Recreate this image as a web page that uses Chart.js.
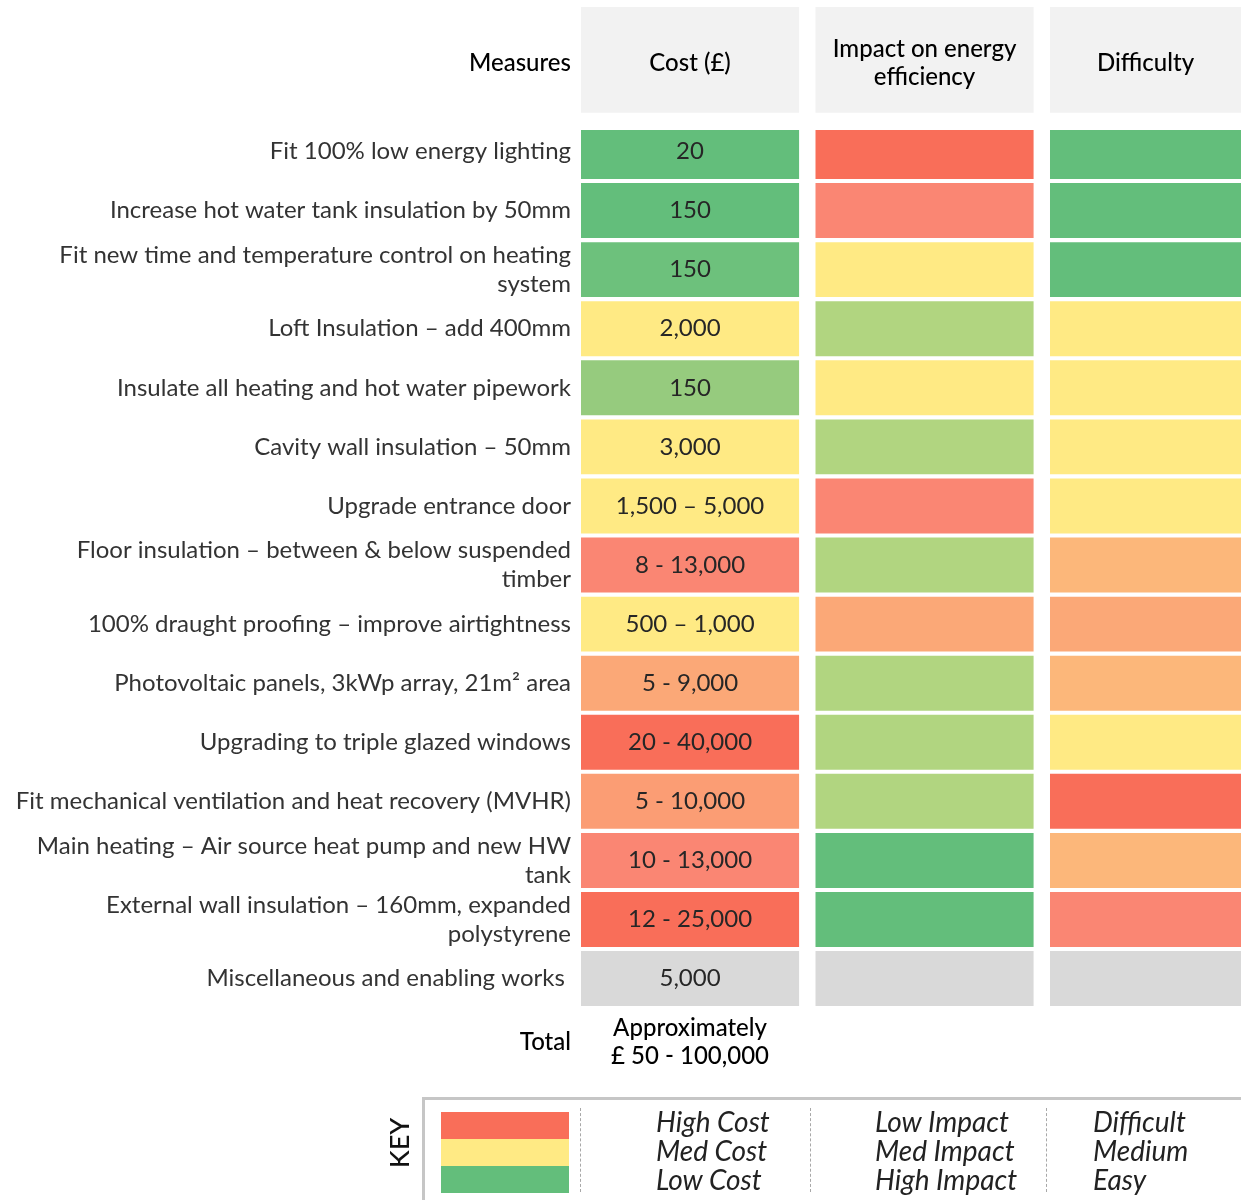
<!DOCTYPE html>
<html><head><meta charset="utf-8">
<script src="https://cdn.jsdelivr.net/npm/chart.js@4.4.0/dist/chart.umd.min.js"></script>
<style>
html,body{margin:0;padding:0;background:#fff;}
#wrap{position:relative;width:1241px;height:1200px;overflow:hidden;font-family:Lato,"Noto Sans",sans-serif;}
#c{position:absolute;left:0;top:0;}
.abs{position:absolute;}
#keybox{left:422px;top:1097px;width:900px;height:200px;border:3px solid #c6c6c6;box-sizing:border-box;}
#keylabel{left:398px;top:1143px;transform:translate(-50%,-50%) rotate(-90deg);font-size:27px;font-weight:500;color:#111;white-space:nowrap;}
.sw{left:441px;width:128px;height:27px;}
.dash{top:1108px;height:84px;border-left:1px dashed #a8a8a8;width:0;}
.kcol{top:1107px;font-style:italic;font-size:28px;line-height:29px;color:#222;white-space:nowrap;}
</style>
</head><body>
<div id="wrap">
<canvas id="c" width="1241" height="1200"></canvas>
<div id="keybox" class="abs"></div>
<div id="keylabel" class="abs"></div>
</div>
<script>
// ---------- data ----------
const headerLabel = 'Measures';
const columnTitles = ['Cost (£)', ['Impact on energy', 'efficiency'], 'Difficulty'];
const measures = [
  'Fit 100% low energy lighting',
  'Increase hot water tank insulation by 50mm',
  ['Fit new time and temperature control on heating', 'system'],
  'Loft Insulation – add 400mm',
  'Insulate all heating and hot water pipework',
  'Cavity wall insulation – 50mm',
  'Upgrade entrance door',
  ['Floor insulation – between & below suspended', 'timber'],
  '100% draught proofing – improve airtightness',
  'Photovoltaic panels, 3kWp array, 21m² area',
  'Upgrading to triple glazed windows',
  'Fit mechanical ventilation and heat recovery (MVHR)',
  ['Main heating – Air source heat pump and new HW', 'tank'],
  ['External wall insulation – 160mm, expanded', 'polystyrene'],
  'Miscellaneous and enabling works '
];
const costLabels = ['20', '150', '150', '2,000', '150', '3,000', '1,500 – 5,000', '8 - 13,000',
  '500 – 1,000', '5 - 9,000', '20 - 40,000', '5 - 10,000', '10 - 13,000', '12 - 25,000', '5,000'];
// rating levels: 1 = best (green) ... 10 = worst (red), 0 = not rated
const costLevels       = [1, 1, 2, 5, 3, 5, 5, 9, 5, 7, 10, 8, 9, 10, 0];
const impactLevels     = [10, 9, 5, 4, 5, 4, 9, 4, 7, 4, 4, 4, 1, 1, 0];
const difficultyLevels = [1, 1, 1, 5, 5, 5, 5, 6, 7, 6, 5, 10, 6, 9, 0];
const totalLabel = 'Total';
const totalCost = ['Approximately', '£ 50 - 100,000'];
const keyTitle = 'KEY';
const keyLevels = [10, 5, 1];
const keyCost = ['High Cost', 'Med Cost', 'Low Cost'];
const keyImpact = ['Low Impact', 'Med Impact', 'High Impact'];
const keyDifficulty = ['Difficult', 'Medium', 'Easy'];

// ---------- styling ----------
const palette = {0:'#D9D9D9',1:'#63BE7B',2:'#6DC17C',3:'#96CB7E',4:'#B1D580',5:'#FFEA84',
  6:'#FCB77A',7:'#FBA877',8:'#FB9D74',9:'#FA8673',10:'#F96E59'};
const HEADER_FILL = '#F2F2F2';
const FONT = 'Lato, "Noto Sans", sans-serif';
const CELL = 0.93;          // share of a row / column covered by a cell
const HEAD_TOP = -1.98, HEAD_BOTTOM = -0.19, HEAD_TEXT = -1.03;
const ROW_MID = 0.465, TOTAL_MID = 15.54;

const columns = [costLevels, impactLevels, difficultyLevels];
const tickValues = [HEAD_TEXT, ...measures.map((_, i) => i + ROW_MID), TOTAL_MID];
const tickLabels = [headerLabel, ...measures, totalLabel];

const datasets = columns.map((levels, k) => ({
  data: [{x: k + CELL / 2, y: [HEAD_TOP, HEAD_BOTTOM]},
         ...levels.map((_, i) => ({x: k + CELL / 2, y: [i === 0 ? 0.1 : i, i + CELL]}))],
  backgroundColor: [HEADER_FILL, ...levels.map(l => palette[l])],
  borderWidth: 0,
  grouped: false,
  categoryPercentage: 1,
  barPercentage: CELL
}));

const textPlugin = {
  id: 'cellText',
  afterDatasetsDraw(chart) {
    const {ctx, chartArea, scales: {y}} = chart;
    ctx.save();
    ctx.textAlign = 'center';
    ctx.textBaseline = 'middle';
    ctx.fillStyle = '#000';
    ctx.font = '500 24px ' + FONT;
    columnTitles.forEach((t, k) => {
      const el = chart.getDatasetMeta(k).data[0];
      const left = el.x - el.width / 2;
      const right = Math.min(el.x + el.width / 2, chartArea.right);
      const cx = (left + right) / 2;
      const lines = [].concat(t);
      const yc = y.getPixelForValue(HEAD_TEXT);
      lines.forEach((s, j) => ctx.fillText(s, cx, yc + (j - (lines.length - 1) / 2) * 28));
    });
    const costMeta = chart.getDatasetMeta(0);
    ctx.font = '24px ' + FONT;
    ctx.fillStyle = '#262626';
    costLabels.forEach((t, i) => {
      ctx.fillText(t, costMeta.data[i + 1].x, y.getPixelForValue(i + ROW_MID));
    });
    ctx.font = '500 24px ' + FONT;
    ctx.fillStyle = '#000';
    const yt = y.getPixelForValue(TOTAL_MID);
    totalCost.forEach((s, j) => ctx.fillText(s, costMeta.data[0].x, yt + (j - (totalCost.length - 1) / 2) * 28));
    ctx.restore();
  }
};

new Chart(document.getElementById('c'), {
  type: 'bar',
  data: {datasets},
  plugins: [textPlugin],
  options: {
    responsive: false,
    animation: false,
    events: [],
    layout: {padding: 0},
    plugins: {legend: {display: false}, tooltip: {enabled: false}},
    scales: {
      x: {type: 'linear', display: false, offset: false, min: 0, max: 2.8145,
          grid: {offset: false},
          ticks: {stepSize: 1, includeBounds: false}},
      y: {type: 'linear', reverse: true, offset: false, min: -2.099, max: 18.213,
          grid: {display: false, drawTicks: false}, border: {display: false},
          afterBuildTicks: s => { s.ticks = tickValues.map(v => ({value: v})); },
          afterFit: s => { s.width = 581; s.paddingTop = 0; s.paddingBottom = 0; },
          ticks: {
            autoSkip: false, padding: 10,
            callback: (v, i) => tickLabels[i],
            font: c => (c.index === 0 || c.index === tickLabels.length - 1)
              ? {family: FONT, size: 24, weight: '500', lineHeight: 1.2}
              : {family: FONT, size: 24, weight: 'normal', lineHeight: 1.2},
            color: c => (c.index === 0 || c.index === tickLabels.length - 1) ? '#000' : '#333'
          }}
    }
  }
});

// ---------- key ----------
const wrap = document.getElementById('wrap');
document.getElementById('keylabel').textContent = keyTitle;
keyLevels.forEach((l, i) => {
  const d = document.createElement('div');
  d.className = 'abs sw';
  d.style.top = (1112 + i * 27) + 'px';
  d.style.background = palette[l];
  wrap.appendChild(d);
});
[580, 810, 1046].forEach(x => {
  const d = document.createElement('div');
  d.className = 'abs dash';
  d.style.left = x + 'px';
  wrap.appendChild(d);
});
[[keyCost, 656], [keyImpact, 875], [keyDifficulty, 1093]].forEach(([lines, x]) => {
  const d = document.createElement('div');
  d.className = 'abs kcol';
  d.style.left = x + 'px';
  d.innerHTML = lines.map(s => '<div>' + s + '</div>').join('');
  wrap.appendChild(d);
});
</script>
</body></html>
